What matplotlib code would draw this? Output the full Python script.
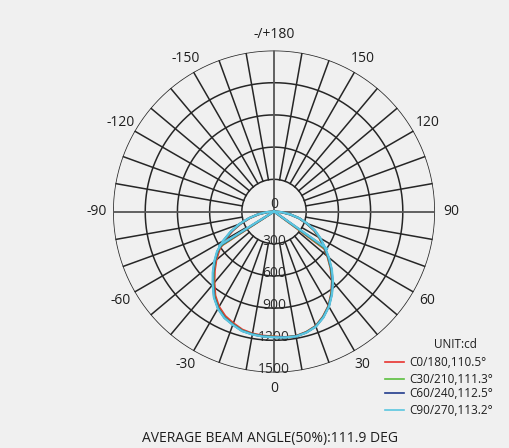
import numpy as np
import matplotlib
matplotlib.use("Agg")
import matplotlib.pyplot as plt
from matplotlib.lines import Line2D

plt.rcParams['font.family'] = ['Open Sans', 'DejaVu Sans']

# ---- data ----
gamma = [0, 5, 10, 15, 20, 25, 30, 35, 40, 45, 50, 55, 60, 65, 70, 75, 80, 85, 90]
# C0 side (positive angles, right) and C180 side (negative angles, left), cd
c0_right  = [1170, 1175, 1178, 1162, 1135, 1080, 1015, 930, 840, 745, 650, 560, 485, 410, 320, 240, 150, 70, 0]
c0_left   = [1165, 1162, 1155, 1140, 1108, 1075, 1025, 955, 865, 782, 702, 622, 525, 428, 330, 232, 145, 65, 0]
c30_right = [1172, 1176, 1180, 1164, 1137, 1083, 1018, 934, 845, 750, 655, 566, 490, 414, 323, 242, 151, 70, 0]
c30_left  = [1168, 1166, 1160, 1148, 1118, 1088, 1038, 968, 878, 796, 716, 636, 538, 438, 338, 238, 148, 68, 0]
c60_right = [1174, 1177, 1181, 1166, 1139, 1086, 1021, 938, 850, 756, 661, 572, 495, 418, 326, 244, 152, 71, 0]
c60_left  = [1170, 1168, 1162, 1151, 1121, 1092, 1042, 973, 884, 802, 722, 642, 545, 443, 342, 241, 150, 69, 0]
c90_right = [1176, 1178, 1182, 1168, 1141, 1089, 1024, 942, 855, 762, 667, 578, 500, 422, 330, 246, 153, 72, 0]
c90_left  = [1172, 1170, 1164, 1153, 1124, 1095, 1046, 977, 889, 808, 728, 648, 550, 448, 346, 244, 152, 70, 0]

# half-intensity (50%) points: (angle left, angle right, intensity)
half_left_angle  = [57.0, 57.3, 57.8, 58.2]
half_right_angle = [53.5, 54.0, 54.7, 55.0]
half_left_cd     = [598, 598, 600, 600]
half_right_cd    = [600, 600, 602, 602]

series_labels = ["C0/180,110.5°", "C30/210,111.3°", "C60/240,112.5°", "C90/270,113.2°"]
series_colors = ["#e8332f", "#5cbf3f", "#213b8c", "#5bc6e0"]

radial_ticks = [0, 300, 600, 900, 1200, 1500]
angle_ticks = [0, 30, 60, 90, 120, 150, 180, -150, -120, -90, -60, -30]
angle_labels = ["0", "30", "60", "90", "120", "150", "-/+180", "-150", "-120", "-90", "-60", "-30"]
title_text = "AVERAGE BEAM ANGLE(50%):111.9 DEG"
unit_text = "UNIT:cd"

# ---- figure ----
bg = "#f0f0f0"
fig = plt.figure(figsize=(5.10, 4.48), dpi=100, facecolor=bg)
ax = fig.add_axes([0.2216, 0.1685, 0.6314, 0.71875], projection='polar')
ax.set_facecolor(bg)
ax.set_theta_zero_location('S')
ax.set_theta_direction(1)
ax.set_ylim(0, 1500)
ax.grid(False)
ax.set_xticks([])
ax.set_yticks([])
ax.spines['polar'].set_visible(False)

gc = "#262626"
t = np.linspace(0, 2 * np.pi, 721)
for r in radial_ticks[1:]:
    ax.plot(t, np.full_like(t, r), color=gc, lw=1.1, zorder=1)
for a in range(0, 360, 10):
    th = np.deg2rad(a)
    if a % 90 == 0:
        ax.plot([th, th], [0, 1500], color="#555555", lw=1.3, zorder=1)
    else:
        ax.plot([th, th], [300, 1500], color=gc, lw=1.1, zorder=1)

# angle labels
for a, lab in zip(angle_ticks, angle_labels):
    ax.text(np.deg2rad(a), 1650, lab, ha='center', va='center', fontsize=10,
            color="#1e1e1e", clip_on=False)

# radial labels
for r in radial_ticks:
    if r == 0:
        ax.text(0, 0, "0", ha='center', va='bottom', fontsize=10, color="#2a2a2a", zorder=3)
    else:
        ax.text(0, r - 25, str(r), ha='center', va='center', fontsize=10, color="#2a2a2a", zorder=3)

# curves
rights = [c0_right, c30_right, c60_right, c90_right]
lefts = [c0_left, c30_left, c60_left, c90_left]
g = np.array(gamma, dtype=float)
for i in range(4):
    ang = np.concatenate([-g[::-1], g[1:]])
    val = np.concatenate([np.array(lefts[i])[::-1], np.array(rights[i])[1:]])
    col = series_colors[i]
    ax.plot(np.deg2rad(ang), val, color=col, lw=1.6, zorder=4 + i)
    ax.plot([0, np.deg2rad(-half_left_angle[i])], [0, half_left_cd[i]], color=col, lw=1.6, zorder=4 + i)
    ax.plot([0, np.deg2rad(half_right_angle[i])], [0, half_right_cd[i]], color=col, lw=1.6, zorder=4 + i)

# legend (manual)
W, H = 510.0, 448.0
fig.text(455 / W, 1 - 344 / H, unit_text, ha='center', va='center', fontsize=8.5, color="#1e1e1e")
leg_y = [362, 379, 393, 410]
for i in range(4):
    y = 1 - leg_y[i] / H
    fig.add_artist(Line2D([385 / W, 404 / W], [y, y], color=series_colors[i], lw=1.2))
    fig.text(409 / W, y, series_labels[i], ha='left', va='center', fontsize=8.5, color="#1e1e1e")

fig.text(270 / W, 1 - 438 / H, title_text, ha='center', va='center', fontsize=10, color="#1e1e1e")

fig.savefig("out.png", dpi=100, facecolor=bg)
